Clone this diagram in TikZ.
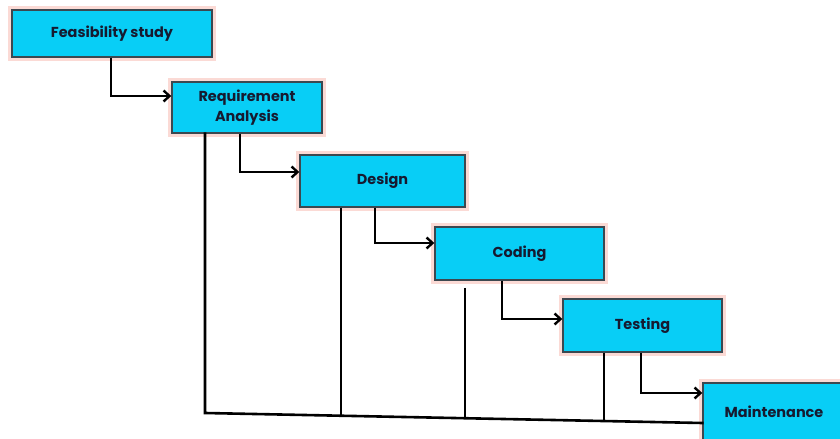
\documentclass[tikz,border=0pt]{standalone}
\usepackage{fontspec}
\setmainfont{Poppins}
\usetikzlibrary{arrows.meta,calc}
\definecolor{boxfill}{RGB}{8,206,246}
\definecolor{boxline}{RGB}{60,72,80}
\definecolor{glow}{RGB}{244,150,136}
\definecolor{txt}{RGB}{22,26,48}
\tikzset{
  stage/.style={rectangle, fill=boxfill, draw=boxline, line width=1.4bp,
    inner sep=0pt, align=center, text=txt,
    font=\fontsize{14.5}{19.5}\selectfont\bfseries,
    preaction={draw=glow, line width=8bp, draw opacity=0.35},
    postaction={}},
  conn/.style={line width=2.6bp, draw=black},
  arr/.style={conn, -{Straight Barb[length=6bp,width=11bp,line width=2.4bp]}},
}
\begin{document}
\begin{tikzpicture}[x=1bp,y=-1bp]
\useasboundingbox (0,0) rectangle (840,439);
\clip (0,0) rectangle (840,439);
\fill[white] (0,0) rectangle (840,439);
% boxes
\node[stage, minimum width=200bp, minimum height=47bp] (feas) at (112,33.5) {Feasibility study};
\node[stage, minimum width=150bp, minimum height=51bp] (req) at (247,107.5) {Requirement\\Analysis};
\node[stage, minimum width=165bp, minimum height=52bp] (des) at (382.5,181) {Design};
\node[stage, minimum width=169bp, minimum height=53bp] (cod) at (519.5,253.5) {Coding};
\node[stage, minimum width=159bp, minimum height=53bp] (tst) at (642.5,325.5) {Testing};
\node[stage, minimum width=142bp, minimum height=58bp] (mnt) at (774,412) {Maintenance};
% forward arrows
\draw[arr] ([xshift=-1bp]feas.south) |- ([yshift=11.5bp]req.west);
\draw[arr] ([xshift=-7bp]req.south) |- ([yshift=9bp]des.west);
\draw[arr] ([xshift=-7.5bp]des.south) |- ([yshift=10.5bp]cod.west);
\draw[arr] ([xshift=-17.5bp]cod.south) |- ([yshift=6.5bp]tst.west);
\draw[arr] ([xshift=-1.5bp]tst.south) |- ([yshift=19bp]mnt.west);
% feedback lines
\coordinate (rtop) at ([xshift=-42bp]req.south);
\coordinate (bl) at (rtop |- 0,413);
\coordinate (br) at ([yshift=-11bp]mnt.west);
\coordinate (dtop) at ([xshift=-41.5bp]des.south);
\coordinate (ctop) at (465,288);
\coordinate (ttop) at ([xshift=-38.5bp]tst.south);
\coordinate (dbot) at ($(bl)!0.273!(br)$);
\coordinate (cbot) at ($(bl)!0.522!(br)$);
\coordinate (tbot) at ($(bl)!0.801!(br)$);
\draw[conn, line cap=rect] (rtop) -- (bl) -- (br);
\draw[conn] (dtop) -- (dtop |- dbot);
\draw[conn] (ctop) -- (ctop |- cbot);
\draw[conn] (ttop) -- (ttop |- tbot);
\end{tikzpicture}
\end{document}
